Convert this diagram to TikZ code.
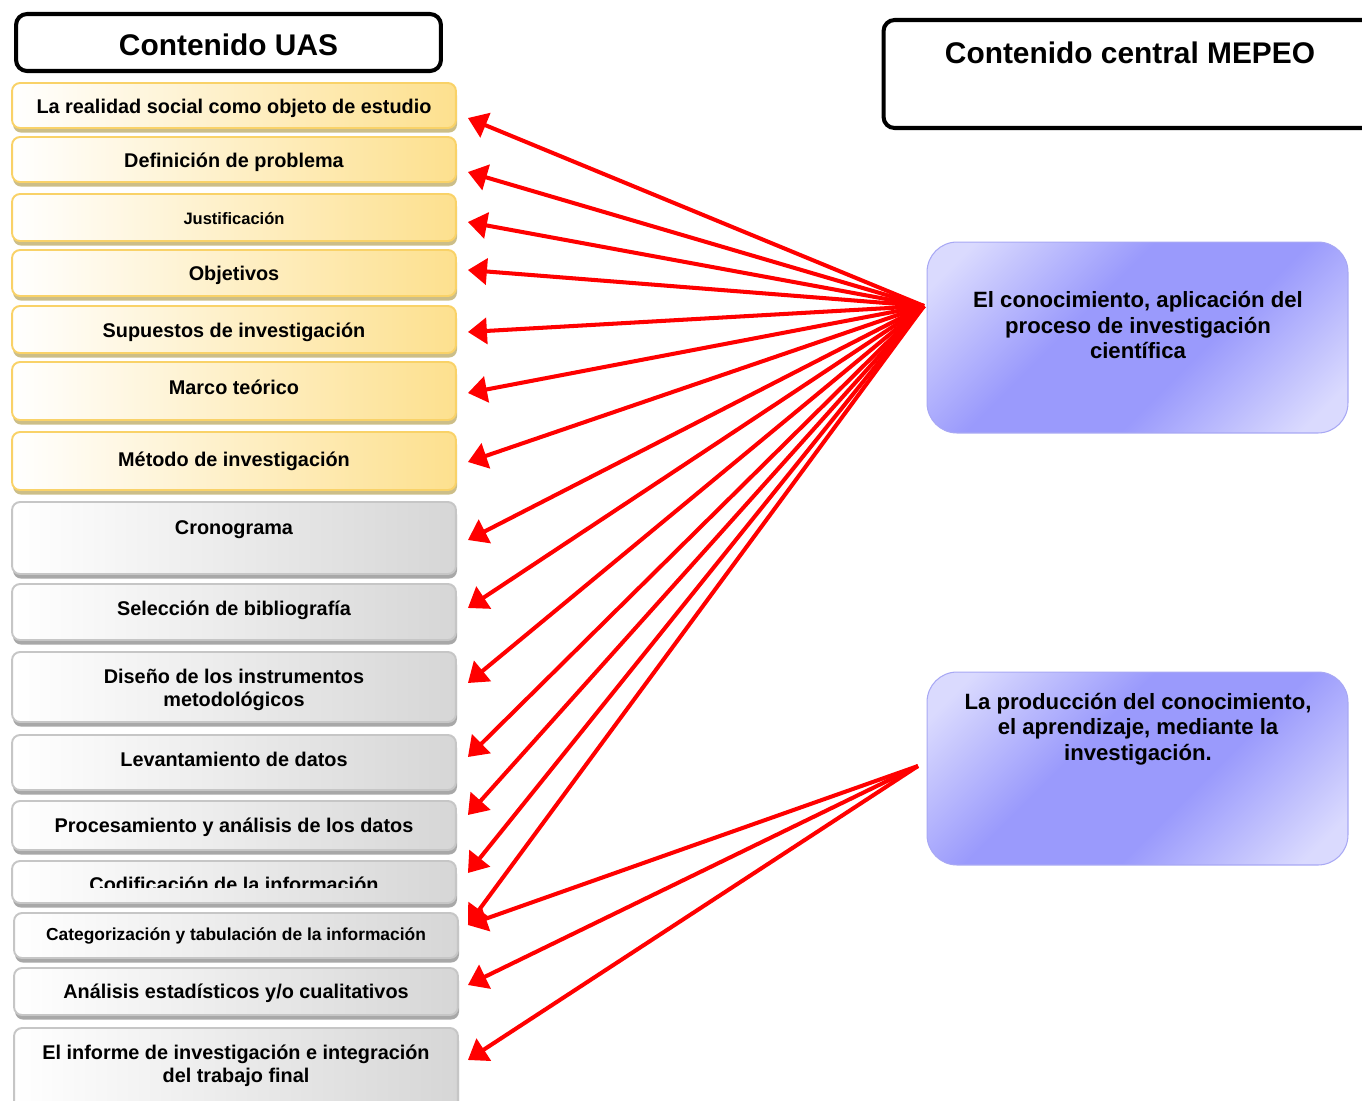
\documentclass[tikz,border=0pt]{standalone}
\usepackage{fontspec}
\setmainfont{Liberation Sans}
\usetikzlibrary{arrows.meta,shadows,calc}
\definecolor{uasYellow}{RGB}{253,224,142}
\definecolor{uasYellowLine}{RGB}{249,210,104}
\definecolor{uasYellowShadow}{RGB}{204,190,136}
\definecolor{uasGray}{RGB}{214,214,214}
\definecolor{uasGrayLine}{RGB}{198,198,198}
\definecolor{uasGrayShadow}{RGB}{168,168,168}
\definecolor{mepeoBlue}{RGB}{154,154,252}
\definecolor{mepeoBlueLight}{RGB}{218,218,254}
\definecolor{mepeoBlueLine}{RGB}{168,168,244}

\pgfdeclareverticalshading{mepeoshade}{100bp}{color(0bp)=(mepeoBlueLight); color(20bp)=(mepeoBlueLight);
  color(41bp)=(mepeoBlue); color(59bp)=(mepeoBlue); color(80bp)=(mepeoBlueLight); color(100bp)=(mepeoBlueLight)}

\tikzset{
  titlebox/.style={draw=black, line width=2.3pt, rounded corners=0.22cm, fill=white},
  titletext/.style={font=\fontsize{17}{20}\selectfont\bfseries, anchor=base},
  uasbox/.style={rounded corners=0.16cm, line width=1.1pt, minimum width=8.88cm, inner sep=0pt},
  yellowbox/.style={uasbox, draw=uasYellowLine, left color=white, right color=uasYellow,
    drop shadow={shadow xshift=0.6pt, shadow yshift=-2.6pt, fill=uasYellowShadow, opacity=1}},
  graybox/.style={uasbox, draw=uasGrayLine, left color=white, right color=uasGray,
    drop shadow={shadow xshift=0.6pt, shadow yshift=-2.6pt, fill=uasGrayShadow, opacity=1}},
  boxtext/.style={font=\fontsize{11.3}{12.6}\selectfont\bfseries, anchor=base, align=center},
  bluebox/.style={draw=mepeoBlueLine, line width=0.6pt, rounded corners=0.6cm, minimum width=8.42cm,
    shading=mepeoshade, shading angle=45},
  bluetext/.style={font=\fontsize{12.6}{14.5}\selectfont\bfseries, align=center},
  redarrow/.style={red, line width=2.3pt, -{Triangle[length=0.38cm, width=0.52cm]}}
}

\begin{document}
\begin{tikzpicture}[x=0.02cm, y=-0.02cm]
    \clip (0,0) rectangle (1362,1100);

    % titles
    \node[titlebox, minimum width=8.5cm, minimum height=1.14cm] (uas) at (228.5,42.5) {};
    \node[titletext] (tuas) at (228.5,55) {Contenido UAS};
    \node[titlebox, minimum width=10.7cm, minimum height=2.16cm] (mepeo) at (1151,74) {};
    \node[titletext] (tmepeo) at (1130,63) {Contenido central MEPEO};

    % yellow boxes
    \foreach \n/\ya/\yb/\yt/\dy/\txt in {
        r1/83/128/113/12.5/{La realidad social como objeto de estudio},
        r2/137/182/167/12.5/{Definición de problema},
        r3/194/241/224/4.5/{\fontsize{9.4}{11}\selectfont Justificación},
        r4/250/296/280/-3/{Objetivos},
        r5/306/353/337/2.5/{Supuestos de investigación},
        r6/362/420/394/2/{Marco teórico},
        r7/432/490/466/1/{Método de investigación}}
    {
        \pgfmathsetmacro\bh{(\yb-\ya)*0.02}
        \node[yellowbox, minimum height=\bh cm] (\n) at (234,{(\ya+\yb)/2}) {};
        \node[boxtext] (t\n) at (234,\yt) {\txt};
        \coordinate (p\n) at ([shift={(11,\dy)}]\n.east);
    }

    % gray boxes
    \foreach \n/\ya/\yb/\yt/\dy/\txt in {
        r8/502/574/534/2/{Cronograma},
        r9/584/640/615/-4/{Selección de bibliografía},
        r10/652/722/706/-4/{Diseño de los instrumentos\\metodológicos},
        r11/735/790/766/-5.5/{Levantamiento de datos},
        r12/801/850/832/-10.5/{Procesamiento y análisis de los datos}}
    {
        \pgfmathsetmacro\bh{(\yb-\ya)*0.02}
        \node[graybox, minimum height=\bh cm] (\n) at (234,{(\ya+\yb)/2}) {};
        \node[boxtext] (t\n) at (234,\yt) {\txt};
        \coordinate (p\n) at ([shift={(11,\dy)}]\n.east);
    }

    \node[graybox, minimum height=0.84cm] (r13) at (234,882) {};
    \begin{scope}
        \clip (0,861) rectangle (470,887.5);
        \node[boxtext] (tr13) at (234,891) {Codificación de la información};
    \end{scope}
    \coordinate (pr13) at ([shift={(11,-9)}]r13.east);

    \foreach \n/\ya/\yb/\yt/\dy/\txt in {
        r14/913/958/940/-10.5/{\fontsize{9.9}{11}\selectfont Categorización y tabulación de la información},
        r15/968/1015/998/-6.5/{Análisis estadísticos y/o cualitativos},
        r16/1028/1110/1082/-9/{El informe de investigación e integración\\del trabajo final}}
    {
        \pgfmathsetmacro\bh{(\yb-\ya)*0.02}
        \node[graybox, minimum height=\bh cm] (\n) at (236,{(\ya+\yb)/2}) {};
        \node[boxtext] (t\n) at (236,\yt) {\txt};
        \coordinate (p\n) at ([shift={(9,\dy)}]\n.east);
    }

    % MEPEO boxes
    \node[bluebox, minimum height=3.82cm] (b1) at (1137.5,337.5) {};
    \node[bluetext] (tb1) at (1138,325) {El conocimiento, aplicación del\\proceso de investigación\\científica};
    \node[bluebox, minimum height=3.86cm] (b2) at (1137.5,768.5) {};
    \node[bluetext] (tb2) at (1138,729) {La producción del conocimiento,\\el aprendizaje, mediante la\\investigación.};

    % arrows
    \coordinate (f1) at (924,306);
    \coordinate (f2) at (918,766);
    \foreach \i in {1,...,14}
        \draw[redarrow] (f1) -- (pr\i);
    \foreach \i in {14,15,16}
        \draw[redarrow] (f2) -- (pr\i);
\end{tikzpicture}
\end{document}
